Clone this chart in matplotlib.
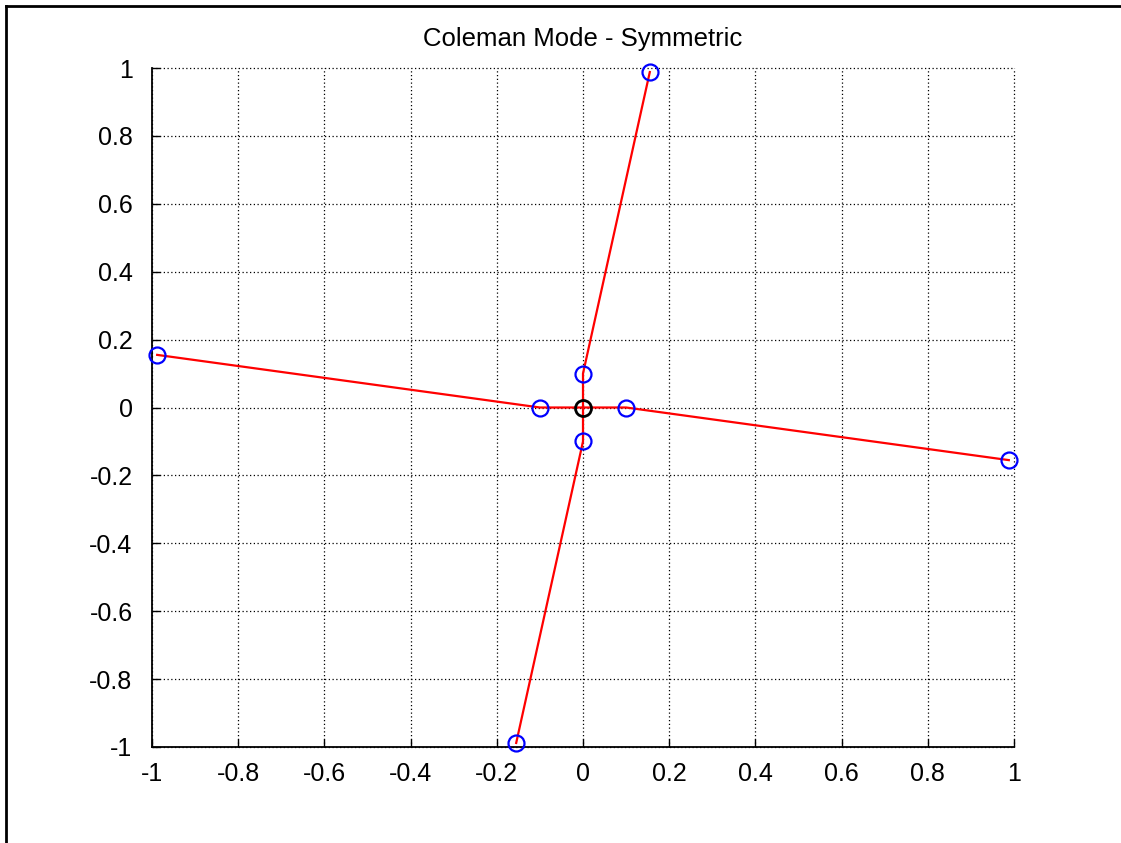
import matplotlib
matplotlib.use("Agg")
import matplotlib.pyplot as plt
from matplotlib.lines import Line2D

# blade tips and hub points (two blades along each of the two lines)
tip_x = [-0.988, 0.988, 0.155, -0.155]
tip_y = [0.155, -0.155, 0.988, -0.988]
hub_x = [-0.1, 0.1, 0.0, 0.0]
hub_y = [0.0, 0.0, 0.1, -0.1]
center = (0.0, 0.0)

ticks = [-1, -0.8, -0.6, -0.4, -0.2, 0, 0.2, 0.4, 0.6, 0.8, 1]
tick_labels = ["-1", "-0.8", "-0.6", "-0.4", "-0.2", "0", "0.2", "0.4", "0.6", "0.8", "1"]

plt.rcParams["font.family"] = ["Liberation Sans", "DejaVu Sans"]

fig = plt.figure(figsize=(11.21, 8.43), dpi=100)
ax = fig.add_axes([152 / 1121, 1 - 747 / 843, (1014 - 152) / 1121, (747 - 68) / 843])

# red lines: tip -> hub -> center
for tx, ty, hx, hy in zip(tip_x, tip_y, hub_x, hub_y):
    ax.plot([tx, hx, center[0]], [ty, hy, center[1]], color="red", lw=1.6, zorder=3)

ax.plot(tip_x, tip_y, "o", ms=11.5, mfc="none", mec="blue", mew=1.6, zorder=4, clip_on=False)
ax.plot(hub_x, hub_y, "o", ms=11.5, mfc="none", mec="blue", mew=1.6, zorder=4)
ax.plot([center[0]], [center[1]], "o", ms=11.5, mfc="none", mec="black", mew=2, zorder=5)

ax.set_xlim(-1, 1)
ax.set_ylim(-1, 1)
ax.set_xticks(ticks)
ax.set_xticklabels(tick_labels)
ax.set_yticks(ticks)
ax.set_yticklabels(tick_labels)
ax.tick_params(direction="in", length=6, width=1, labelsize=18)
ax.tick_params(axis="y", pad=14)
ax.tick_params(axis="x", pad=11)
ax.grid(True, color="black", linestyle=(0, (1, 2)), linewidth=0.9)
for gl in ax.get_xgridlines() + ax.get_ygridlines():
    gl.set_clip_on(False)
ax.spines["top"].set_visible(False)
ax.spines["right"].set_visible(False)
ax.spines["left"].set_linewidth(1.3)
ax.spines["bottom"].set_linewidth(1.3)
ax.set_title("Coleman Mode - Symmetric", fontsize=18.5, pad=16)

# figure frame on left and top edges
fig.add_artist(Line2D([6 / 1121, 6 / 1121], [0, 1 - 6 / 843], color="black", lw=2,
                      transform=fig.transFigure))
fig.add_artist(Line2D([6 / 1121, 1], [1 - 6 / 843, 1 - 6 / 843], color="black", lw=2,
                      transform=fig.transFigure))

fig.savefig("out.png", dpi=100)
